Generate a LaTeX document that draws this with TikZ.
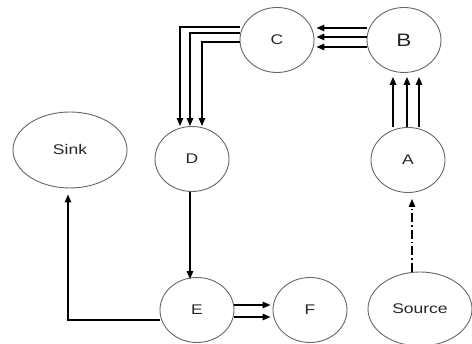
\documentclass[tikz,border=0pt]{standalone}
\usepackage{fontspec}
\usetikzlibrary{shapes.geometric,arrows.meta,calc}
\newfontfamily\lblfont{Liberation Sans}[FakeStretch=1.25]
\begin{document}
\begin{tikzpicture}[x=1pt,y=1pt,
  state/.style={ellipse,draw=black!60,line width=0.9pt,inner sep=0pt,
    minimum width=74pt,minimum height=65pt,
    font=\lblfont\fontsize{14}{16}\selectfont,text=black!85},
  arr/.style={line width=1.4pt,-{Triangle[length=8pt,width=6.5pt]}},
  dashdot/.style={arr,dash pattern=on 9pt off 3pt on 1.5pt off 3pt}]
\useasboundingbox (0,0) rectangle (472,344);

% nodes
\node[state] (C) at (277,304) {C};
\node[state,font=\lblfont\fontsize{18}{20}\selectfont] (B) at (404,304) {B};
\node[state,minimum width=114pt,minimum height=76pt] (Sink) at (70,194) {Sink};
\node[state] (D) at (192,185) {D};
\node[state] (A) at (408,184) {A};
\node[state] (E) at (197,34) {E};
\node[state] (F) at (310,34) {F};
\node[state,minimum width=104pt,minimum height=74pt] (Source) at (420,35) {Source};

% Source to A
\draw[dashdot] ([xshift=-8pt]Source.north) -- ([xshift=4pt,yshift=-6pt]A.south);

% A to B, three parallel flows
\draw[arr] ([xshift=-15pt]A.north) -- ([xshift=-11pt,yshift=-4pt]B.south);
\draw[arr] ([xshift=-1pt]A.north) -- ([xshift=3pt,yshift=-4pt]B.south);
\draw[arr] ([xshift=11pt]A.north) -- ([xshift=15pt,yshift=-4pt]B.south);

% B to C, three parallel flows
\draw[arr] ([yshift=12pt]B.west) -- ([yshift=12pt,xshift=2pt]C.east);
\draw[arr] ([yshift=3pt]B.west) -- ([yshift=3pt,xshift=2pt]C.east);
\draw[arr] ([yshift=-7pt]B.west) -- ([yshift=-7pt,xshift=2pt]C.east);

% C to D, three routed flows
\draw[arr] ([yshift=13pt]C.west) -| ([xshift=-12pt]D.north);
\draw[arr] ([yshift=7pt]C.west) -| ([xshift=-2pt]D.north);
\draw[arr] ([yshift=-2pt]C.west) -| ([xshift=10pt]D.north);

% D to E
\draw[arr] ([xshift=-2pt]D.south) -- ([xshift=-7pt,yshift=-2pt]E.north);

% E to Sink
\draw[arr,shorten >=6pt] ([yshift=-10pt]E.west) -| ([xshift=-2pt]Sink.south);

% E to F, two parallel flows
\draw[arr] ([yshift=5pt]E.east) -- ([yshift=5pt,xshift=-2pt]F.west);
\draw[arr] ([yshift=-7pt]E.east) -- ([yshift=-7pt,xshift=-2pt]F.west);
\end{tikzpicture}
\end{document}
